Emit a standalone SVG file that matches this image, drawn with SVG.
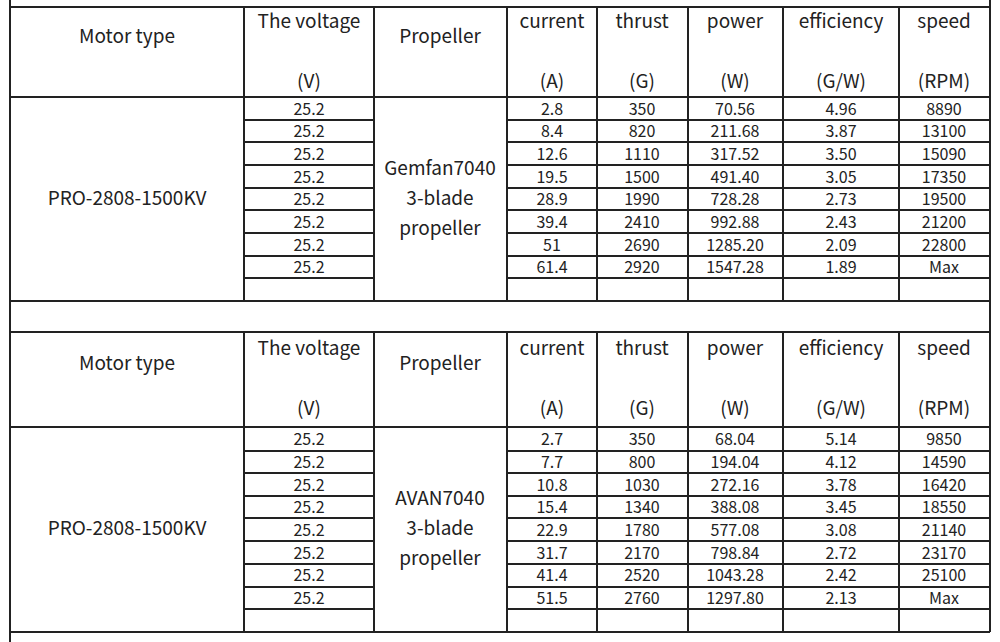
<svg xmlns="http://www.w3.org/2000/svg" width="1000" height="642" viewBox="0 0 1000 642">
<style>
.l{stroke:#222;stroke-width:2;fill:none}
text{font-family:"Noto Sans CJK SC","Noto Sans",sans-serif;fill:#222;text-anchor:middle}
.h{font-size:19px}
.d{font-size:16px}
</style>
<rect width="1000" height="642" fill="#fff"/>
<g id="grid" class="l">
<path d="M10 0V642M990 0V632M10 7H990M10 97H990M10 301H990M10 332H990M10 427H990M10 632H990"/>
<path d="M244 7V301M374 7V301M507 7V301M597 7V301M688 7V301M783 7V301M899 7V301"/>
<path d="M244 332V632M374 332V632M507 332V632M597 332V632M688 332V632M783 332V632M899 332V632"/>
<path d="M244 120H374M507 120H990M244 142H374M507 142H990M244 165H374M507 165H990M244 188H374M507 188H990M244 210H374M507 210H990M244 233H374M507 233H990M244 256H374M507 256H990M244 278H374M507 278H990"/>
<path d="M244 451H374M507 451H990M244 473H374M507 473H990M244 496H374M507 496H990M244 518H374M507 518H990M244 541H374M507 541H990M244 564H374M507 564H990M244 587H374M507 587H990M244 609H374M507 609H990"/>
</g>
<g id="t1">
<g class="h">
<text x="127" y="43">Motor type</text>
<text x="309" y="28">The voltage</text><text x="309" y="88">(V)</text>
<text x="440" y="43">Propeller</text>
<text x="552" y="28">current</text><text x="552" y="88">(A)</text>
<text x="642" y="28">thrust</text><text x="642" y="88">(G)</text>
<text x="735" y="28">power</text><text x="735" y="88">(W)</text>
<text x="841" y="28">efficiency</text><text x="841" y="88">(G/W)</text>
<text x="944" y="28">speed</text><text x="944" y="88">(RPM)</text>
<text x="127" y="205">PRO-2808-1500KV</text>
<text x="440" y="175">Gemfan7040</text><text x="440" y="205">3-blade</text><text x="440" y="235">propeller</text>
</g>
<g class="d">
<text x="309" y="115">25.2</text><text x="309" y="137">25.2</text><text x="309" y="160">25.2</text><text x="309" y="183">25.2</text><text x="309" y="205">25.2</text><text x="309" y="228">25.2</text><text x="309" y="251">25.2</text><text x="309" y="273">25.2</text>
<text x="552" y="115">2.8</text><text x="552" y="137">8.4</text><text x="552" y="160">12.6</text><text x="552" y="183">19.5</text><text x="552" y="205">28.9</text><text x="552" y="228">39.4</text><text x="552" y="251">51</text><text x="552" y="273">61.4</text>
<text x="642" y="115">350</text><text x="642" y="137">820</text><text x="642" y="160">1110</text><text x="642" y="183">1500</text><text x="642" y="205">1990</text><text x="642" y="228">2410</text><text x="642" y="251">2690</text><text x="642" y="273">2920</text>
<text x="735" y="115">70.56</text><text x="735" y="137">211.68</text><text x="735" y="160">317.52</text><text x="735" y="183">491.40</text><text x="735" y="205">728.28</text><text x="735" y="228">992.88</text><text x="735" y="251">1285.20</text><text x="735" y="273">1547.28</text>
<text x="841" y="115">4.96</text><text x="841" y="137">3.87</text><text x="841" y="160">3.50</text><text x="841" y="183">3.05</text><text x="841" y="205">2.73</text><text x="841" y="228">2.43</text><text x="841" y="251">2.09</text><text x="841" y="273">1.89</text>
<text x="944" y="115">8890</text><text x="944" y="137">13100</text><text x="944" y="160">15090</text><text x="944" y="183">17350</text><text x="944" y="205">19500</text><text x="944" y="228">21200</text><text x="944" y="251">22800</text><text x="944" y="273">Max</text>
</g>
</g>
<g id="t2">
<g class="h">
<text x="127" y="370">Motor type</text>
<text x="309" y="355">The voltage</text><text x="309" y="415">(V)</text>
<text x="440" y="370">Propeller</text>
<text x="552" y="355">current</text><text x="552" y="415">(A)</text>
<text x="642" y="355">thrust</text><text x="642" y="415">(G)</text>
<text x="735" y="355">power</text><text x="735" y="415">(W)</text>
<text x="841" y="355">efficiency</text><text x="841" y="415">(G/W)</text>
<text x="944" y="355">speed</text><text x="944" y="415">(RPM)</text>
<text x="127" y="535">PRO-2808-1500KV</text>
<text x="440" y="505">AVAN7040</text><text x="440" y="535">3-blade</text><text x="440" y="565">propeller</text>
</g>
<g class="d">
<text x="309" y="445">25.2</text><text x="309" y="468">25.2</text><text x="309" y="491">25.2</text><text x="309" y="513">25.2</text><text x="309" y="536">25.2</text><text x="309" y="559">25.2</text><text x="309" y="581">25.2</text><text x="309" y="604">25.2</text>
<text x="552" y="445">2.7</text><text x="552" y="468">7.7</text><text x="552" y="491">10.8</text><text x="552" y="513">15.4</text><text x="552" y="536">22.9</text><text x="552" y="559">31.7</text><text x="552" y="581">41.4</text><text x="552" y="604">51.5</text>
<text x="642" y="445">350</text><text x="642" y="468">800</text><text x="642" y="491">1030</text><text x="642" y="513">1340</text><text x="642" y="536">1780</text><text x="642" y="559">2170</text><text x="642" y="581">2520</text><text x="642" y="604">2760</text>
<text x="735" y="445">68.04</text><text x="735" y="468">194.04</text><text x="735" y="491">272.16</text><text x="735" y="513">388.08</text><text x="735" y="536">577.08</text><text x="735" y="559">798.84</text><text x="735" y="581">1043.28</text><text x="735" y="604">1297.80</text>
<text x="841" y="445">5.14</text><text x="841" y="468">4.12</text><text x="841" y="491">3.78</text><text x="841" y="513">3.45</text><text x="841" y="536">3.08</text><text x="841" y="559">2.72</text><text x="841" y="581">2.42</text><text x="841" y="604">2.13</text>
<text x="944" y="445">9850</text><text x="944" y="468">14590</text><text x="944" y="491">16420</text><text x="944" y="513">18550</text><text x="944" y="536">21140</text><text x="944" y="559">23170</text><text x="944" y="581">25100</text><text x="944" y="604">Max</text>
</g>
</g>
</svg>
